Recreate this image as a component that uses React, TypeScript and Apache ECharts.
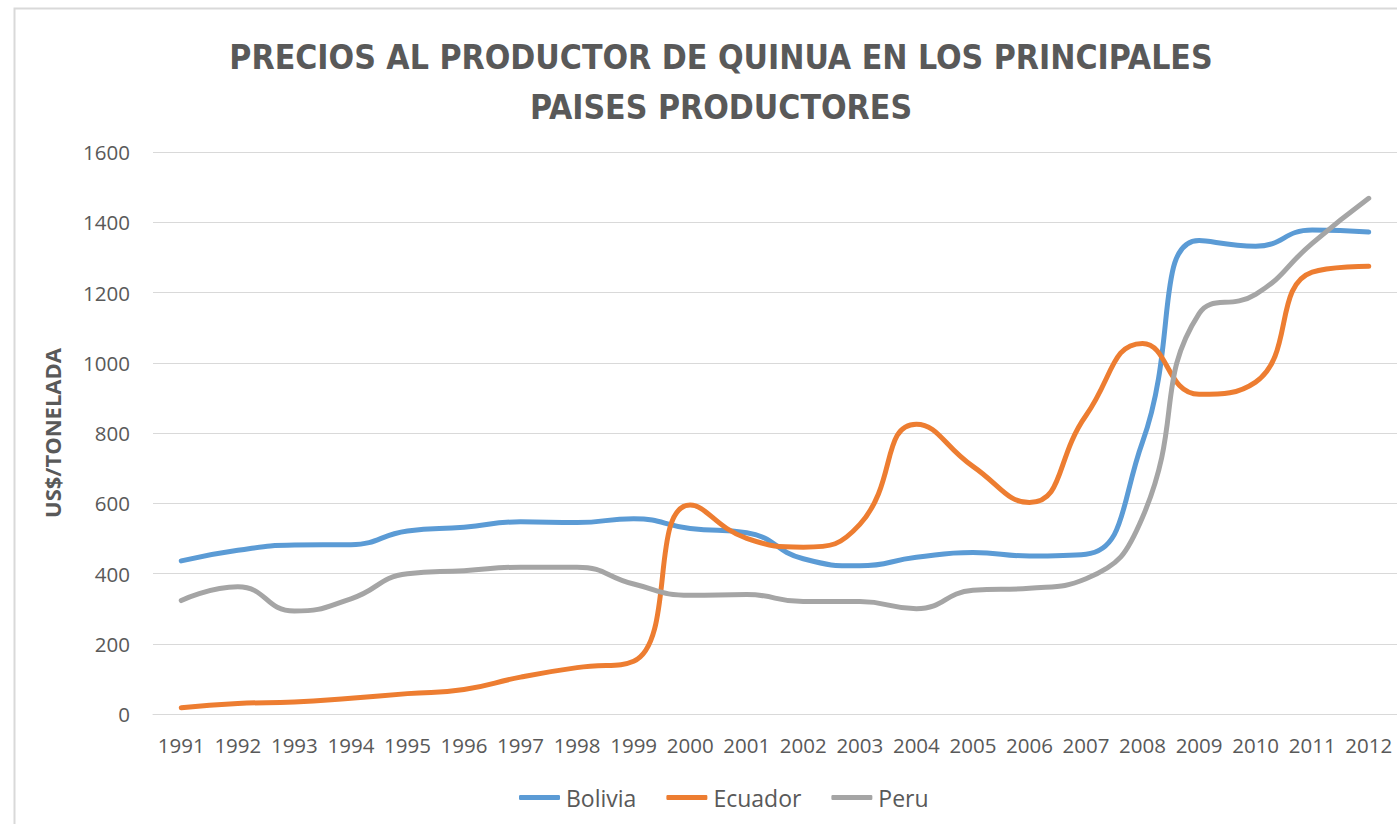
import React, { useEffect, useRef } from "react";
import * as echarts from "echarts";

const years = ["1991","1992","1993","1994","1995","1996","1997","1998","1999","2000","2001","2002","2003","2004","2005","2006","2007","2008","2009","2010","2011","2012"];
const bolivia = [436, 466, 481, 482, 521, 532, 547, 545, 556, 528, 516, 442, 422, 446, 460, 450, 455, 775, 1348, 1332, 1378, 1372];
const ecuador = [18, 30, 34, 45, 58, 70, 105, 132, 150, 595, 500, 475, 540, 825, 705, 602, 850, 1055, 910, 945, 1258, 1275];
const peru = [323, 362, 293, 328, 399, 408, 418, 418, 370, 338, 340, 320, 320, 300, 352, 358, 385, 560, 1140, 1195, 1340, 1468];
const yTicks = { min: 0, max: 1600, interval: 200 };

const TXT = "#595959";
const FONT = "'Open Sans', 'Liberation Sans', sans-serif";

export default function App() {
  const ref = useRef<HTMLDivElement>(null);
  useEffect(() => {
    if (!ref.current) return;
    const chart = echarts.init(ref.current, undefined, { renderer: "svg" });
    const mk = (name: string, data: number[], color: string) => ({
      name,
      type: "line",
      data,
      smooth: 0.5,
      symbol: "none",
      lineStyle: { width: 5, color, cap: "round", join: "round" },
      itemStyle: { color },
    });
    chart.setOption({
      animation: false,
      backgroundColor: "#ffffff",
      title: {
        text: "PRECIOS AL PRODUCTOR DE QUINUA EN LOS PRINCIPALES\nPAISES PRODUCTORES",
        left: 716,
        textAlign: "center",
        top: 27,
        textStyle: {
          fontFamily: "'Liberation Sans Narrow', 'DejaVu Sans Condensed', sans-serif",
          fontWeight: "bold",
          fontSize: 33.5,
          lineHeight: 50,
          color: TXT,
        },
      },
      graphic: [
        {
          type: "rect",
          shape: { x: 14.5, y: 8.5, width: 1500, height: 900 },
          style: { fill: "none", stroke: "#d9d9d9", lineWidth: 2 },
          silent: true,
        },
      ],
      legend: {
        bottom: 10,
        left: 514,
        itemWidth: 41,
        itemHeight: 5,
        itemGap: 30,
        icon: "roundRect",
        textStyle: { fontFamily: FONT, fontSize: 23, color: TXT, padding: [0, 0, 0, 1] },
        data: ["Bolivia", "Ecuador", "Peru"],
      },
      grid: { left: 153, right: 0, top: 152, bottom: 110, containLabel: false },
      xAxis: {
        type: "category",
        data: years,
        boundaryGap: true,
        axisLine: { show: true, lineStyle: { color: "#d9d9d9", width: 1 } },
        axisTick: { show: false },
        axisLabel: { fontFamily: FONT, fontSize: 20.5, color: TXT, margin: 20, interval: 0 },
      },
      yAxis: {
        type: "value",
        min: yTicks.min,
        max: yTicks.max,
        interval: yTicks.interval,
        name: "US$/TONELADA",
        nameLocation: "middle",
        nameGap: 90,
        nameTextStyle: { fontFamily: FONT, fontWeight: "bold", fontSize: 22, color: TXT },
        axisLine: { show: false },
        axisTick: { show: false },
        splitLine: { lineStyle: { color: "#d9d9d9", width: 1 } },
        axisLabel: {
          fontFamily: FONT,
          fontSize: 20.5,
          color: TXT,
          margin: 23,
          formatter: (v: number) => String(v),
        },
      },
      series: [
        mk("Bolivia", bolivia, "#5B9BD5"),
        mk("Ecuador", ecuador, "#ED7D31"),
        mk("Peru", peru, "#A5A5A5"),
      ],
    });
    return () => chart.dispose();
  }, []);
  return <div ref={ref} style={{ position: "fixed", left: 0, top: 0, width: 1397, height: 824 }} />;
}
